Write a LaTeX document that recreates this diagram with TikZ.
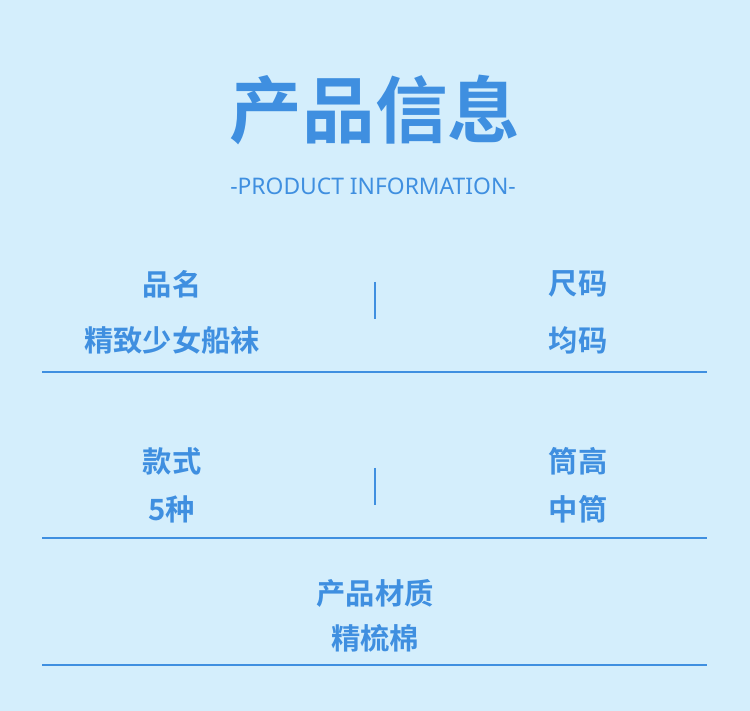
\documentclass[tikz,border=0pt]{standalone}
\usepackage{fontspec}
\newfontfamily\cjk{Noto Sans CJK SC Bold}
\newfontfamily\latinsans{Noto Sans}
\definecolor{bgblue}{HTML}{D4EEFC}
\definecolor{inkblue}{HTML}{3F8FE0}
\tikzset{
  label/.style={text=inkblue, font=\cjk\fontsize{25}{28}\selectfont, inner sep=0pt},
  rule/.style={draw=inkblue, line width=1.2pt},
}
\begin{document}
\begin{tikzpicture}[x=0.03cm,y=-0.03cm]
  \fill[bgblue] (0,0) rectangle (750,711);
  \useasboundingbox (0,0) rectangle (750,711);
  \node[text=inkblue, font=\cjk\fontsize{62}{66}\selectfont, inner sep=0pt] (title) at (375,110) {产品信息};
  \node[text=inkblue, font=\latinsans\fontsize{19.5}{22}\selectfont, inner sep=0pt] (subtitle) at (373,186) {-PRODUCT INFORMATION-};
  % first row
  \node[label] (name) at (172,284) {品名};
  \node[label] (nameval) at (172,340) {精致少女船袜};
  \node[label] (size) at (578,284) {尺码};
  \node[label] (sizeval) at (578,340) {均码};
  \coordinate (bar1a) at (375,282);
  \coordinate (bar1b) at (375,319);
  \draw[rule, line width=1pt] (bar1a) -- (bar1b);
  \coordinate (line1a) at (42,372);
  \coordinate (line1b) at (707,372);
  \draw[rule] (line1a) -- (line1b);
  % second row
  \node[label] (style) at (172,461) {款式};
  \node[label] (styleval) at (172,509) {5种};
  \node[label] (tube) at (578,461) {筒高};
  \node[label] (tubeval) at (578,509) {中筒};
  \coordinate (bar2a) at (375,468);
  \coordinate (bar2b) at (375,505);
  \draw[rule, line width=1pt] (bar2a) -- (bar2b);
  \coordinate (line2a) at (42,538);
  \coordinate (line2b) at (707,538);
  \draw[rule] (line2a) -- (line2b);
  % third row
  \node[label] (material) at (375,593) {产品材质};
  \node[label] (materialval) at (375,638) {精梳棉};
  \coordinate (line3a) at (42,665);
  \coordinate (line3b) at (707,665);
  \draw[rule] (line3a) -- (line3b);
\end{tikzpicture}
\end{document}
